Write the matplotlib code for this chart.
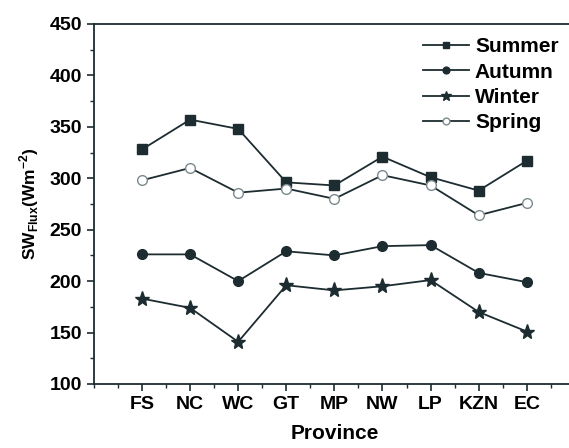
import matplotlib.pyplot as plt
from matplotlib.ticker import MultipleLocator

provinces = ['FS', 'NC', 'WC', 'GT', 'MP', 'NW', 'LP', 'KZN', 'EC']
summer = [328, 357, 348, 296, 293, 321, 301, 288, 317]
autumn = [226, 226, 200, 229, 225, 234, 235, 208, 199]
winter = [183, 174, 141, 196, 191, 195, 201, 170, 151]
spring = [298, 310, 286, 290, 280, 303, 293, 264, 276]

plt.rcParams['font.family'] = ['Liberation Sans', 'DejaVu Sans']
plt.rcParams['font.weight'] = 'bold'
plt.rcParams['mathtext.fontset'] = 'custom'
plt.rcParams['mathtext.rm'] = 'Liberation Sans:bold'
plt.rcParams['mathtext.bf'] = 'Liberation Sans:bold'

c = '#1c2c30'
fig = plt.figure(figsize=(5.69, 4.48), dpi=100)
ax = fig.add_axes([0.165, 0.1429, 0.8453, 0.8036])

x = list(range(1, len(provinces) + 1))
ax.plot(x, summer, '-s', color=c, lw=1.3, ms=6.5, label='Summer')
ax.plot(x, autumn, '-o', color=c, lw=1.3, ms=7, label='Autumn')
ax.plot(x, winter, '-*', color=c, lw=1.3, ms=11, label='Winter')
ax.plot(x, spring, '-o', color=c, lw=1.3, ms=7, mfc='white', mec='#7a8a8e', label='Spring')

ax.set_xlim(0, 10)
ax.set_ylim(100, 450)
ax.set_xticks(x)
ax.set_xticklabels(provinces)
ax.xaxis.set_minor_locator(MultipleLocator(0.5))
ax.yaxis.set_major_locator(MultipleLocator(50))
ax.yaxis.set_minor_locator(MultipleLocator(25))
ax.tick_params(which='major', direction='out', length=5, width=1.2, color=c, labelsize=14)
ax.tick_params(which='minor', direction='out', length=3, width=1, color=c)
for s in ax.spines.values():
    s.set_color(c)
    s.set_linewidth(1.3)

ax.set_xlabel('Province', fontsize=15, fontweight='bold', labelpad=8)
ax.set_ylabel(r'SW$_{\mathrm{Flux}}$(Wm$^{\mathrm{-2}}$)', fontsize=12.5, fontweight='bold', labelpad=6)

leg = ax.legend(loc='upper left', bbox_to_anchor=(0.645, 1.015), frameon=False,
                fontsize=15, handlelength=2.2, handletextpad=0.3, labelspacing=0.3,
                markerscale=0.7)
for t in leg.get_texts():
    t.set_fontweight('bold')

fig.savefig('out.png', dpi=100)
